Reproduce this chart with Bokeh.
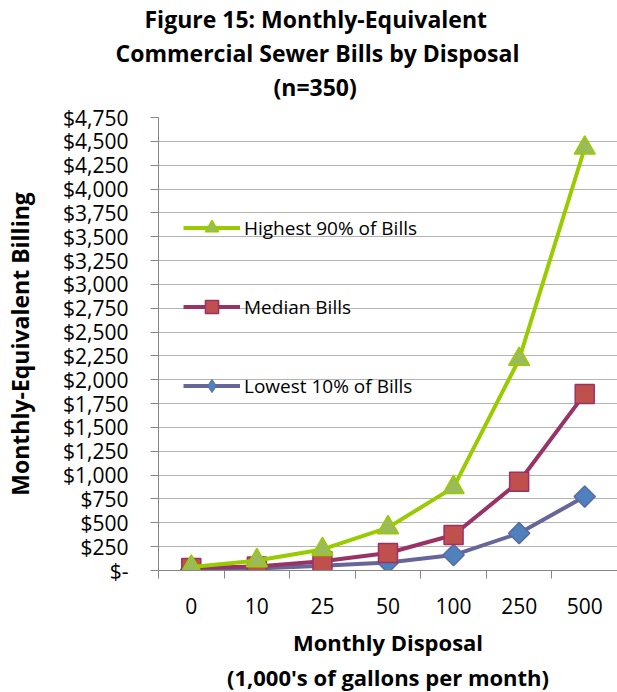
import numpy as np
from bokeh.plotting import figure
from bokeh.models import (Range1d, FixedTicker, Legend, LegendItem, Title, ColumnDataSource)
from bokeh.embed import file_html
from bokeh.resources import INLINE

# ---- data ----
categories = ["0", "10", "25", "50", "100", "250", "500"]
highest = [37, 104, 221, 450, 872, 2215, 4430]
median = [25, 42, 97, 183, 372, 931, 1852]
lowest = [10, 22, 50, 85, 162, 391, 775]
y_ticks = list(range(0, 4751, 250))
y_tick_labels = ["$-", "$250", "$500", "$750", "$1,000", "$1,250", "$1,500", "$1,750",
                 "$2,000", "$2,250", "$2,500", "$2,750", "$3,000", "$3,250", "$3,500",
                 "$3,750", "$4,000", "$4,250", "$4,500", "$4,750"]
title_lines = ["Figure 15: Monthly-Equivalent", "Commercial Sewer Bills by Disposal", "(n=350)"]
title_offsets = [-14, -43, 115]
x_title = "Monthly Disposal"
x_subtitle = "(1,000's of gallons per month)"
y_title = "Monthly-Equivalent Billing"
series_names = ["Highest 90% of Bills", "Median Bills", "Lowest 10% of Bills"]

FONT = "Open Sans"

n = len(categories)
xpos = [i + 0.5 for i in range(n)]

p = figure(width=617, height=692, output_backend="svg", toolbar_location=None,
           x_range=Range1d(0, n), y_range=Range1d(0, 4750), title=None,
           min_border_left=158, min_border_right=0, min_border_top=0, min_border_bottom=119)
p.outline_line_color = None
p.background_fill_color = "white"

# spacer between title block and plot, then title lines (first added sits closest to plot)
p.add_layout(Title(text=" ", text_font=FONT, text_font_size="9px", standoff=0), "above")
for t, off in reversed(list(zip(title_lines, title_offsets))):
    p.add_layout(Title(text=t, align="left", offset=off, text_font=FONT,
                       text_font_size="23px", text_font_style="bold",
                       text_color="black", standoff=0), "above")

# y axis
yticker = FixedTicker(ticks=y_ticks)
p.yaxis.ticker = yticker
p.yaxis.major_label_overrides = {v: s for v, s in zip(y_ticks, y_tick_labels)}
p.yaxis.axis_label = y_title
p.yaxis.axis_label_text_font = FONT
p.yaxis.axis_label_text_font_size = "23px"
p.yaxis.axis_label_text_font_style = "bold"
p.yaxis.axis_label_text_color = "black"
p.yaxis.axis_label_standoff = 24
p.yaxis.major_label_text_font = FONT
p.yaxis.major_label_text_font_size = "21px"
p.yaxis.major_label_text_color = "black"
p.yaxis.major_label_standoff = 22
p.yaxis.axis_line_color = "#868686"
p.yaxis.major_tick_line_color = "#868686"
p.yaxis.major_tick_out = 8
p.yaxis.major_tick_in = 0
p.yaxis.minor_tick_line_color = None
p.ygrid.ticker = yticker
p.ygrid.grid_line_color = "#b4b4b4"
p.xgrid.grid_line_color = None

# x axis: labels at category centres, ticks at category boundaries
xticker = FixedTicker(ticks=xpos, minor_ticks=list(range(n + 1)))
p.xaxis.ticker = xticker
p.xaxis.major_label_overrides = {x: c for x, c in zip(xpos, categories)}
p.xaxis.major_tick_line_color = None
p.xaxis.major_tick_out = 0
p.xaxis.major_tick_in = 0
p.xaxis.minor_tick_line_color = "#868686"
p.xaxis.minor_tick_out = 8
p.xaxis.minor_tick_in = 0
p.xaxis.axis_line_color = "#868686"
p.xaxis.major_label_text_font = FONT
p.xaxis.major_label_text_font_size = "21px"
p.xaxis.major_label_text_color = "black"
p.xaxis.major_label_standoff = 19
p.xaxis.axis_label = x_title
p.xaxis.axis_label_text_font = FONT
p.xaxis.axis_label_text_font_size = "22px"
p.xaxis.axis_label_text_font_style = "bold"
p.xaxis.axis_label_text_color = "black"
p.xaxis.axis_label_standoff = 10
p.add_layout(Title(text=x_subtitle, align="center", text_font=FONT, text_font_size="22px",
                   text_font_style="bold", text_color="black", standoff=1), "below")

src = ColumnDataSource(dict(x=xpos, hi=highest, med=median, lo=lowest))

lo_l = p.line("x", "lo", source=src, line_width=4, line_color="#666699")
lo_m = p.scatter("x", "lo", source=src, marker="square", angle=np.pi / 4, size=15,
                 fill_color="#4f81bd", line_color="#5a6aa0", line_width=1.5)
# hidden renderer used only for the legend's diamond symbol
lo_leg = p.scatter("x", "lo", source=src, marker="diamond", size=15,
                   fill_color="#4f81bd", line_color="#5a6aa0", line_width=1, visible=False)
me_l = p.line("x", "med", source=src, line_width=4, line_color="#993366")
me_m = p.scatter("x", "med", source=src, marker="square", size=19,
                 fill_color="#c0504d", line_color="#993366", line_width=1.5)
hi_l = p.line("x", "hi", source=src, line_width=4, line_color="#99cc00")
hi_m = p.scatter("x", "hi", source=src, marker="triangle", size=21,
                 fill_color="#9bbb59", line_color="#99cc00", line_width=1.5)

legend = Legend(items=[LegendItem(label=series_names[0], renderers=[hi_l, hi_m]),
                       LegendItem(label=series_names[1], renderers=[me_l, me_m]),
                       LegendItem(label=series_names[2], renderers=[lo_l, lo_leg])],
                location=(25, 168), padding=0, margin=0, spacing=46,
                glyph_width=57, glyph_height=33, label_height=33, label_standoff=4,
                label_text_font=FONT, label_text_font_size="19px", label_text_color="black",
                border_line_color=None, background_fill_alpha=0,
                click_policy="none", inactive_fill_alpha=0)
p.add_layout(legend, "center")

open("out.html", "w").write(file_html(p, INLINE))
